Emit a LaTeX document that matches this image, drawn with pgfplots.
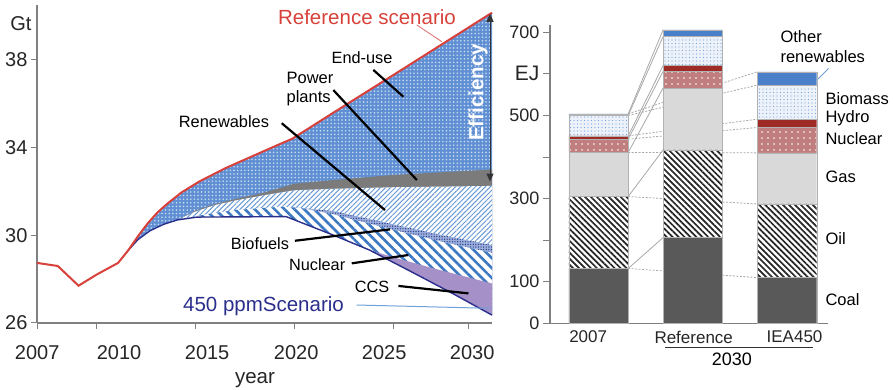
\documentclass[border=0pt]{standalone}
\usepackage{pgfplots}
\pgfplotsset{compat=1.18}
\usepackage{fontspec}
\setmainfont{Liberation Sans}
\usetikzlibrary{patterns.meta,arrows.meta}

\definecolor{refred}{HTML}{D8413A}
\definecolor{navy}{HTML}{2B2F8C}
\definecolor{eublue}{HTML}{6090D3}
\definecolor{eudot}{HTML}{C8DAF2}
\definecolor{ppgray}{HTML}{7B7B7B}
\definecolor{renblue}{HTML}{6A9AD6}
\definecolor{nucblue}{HTML}{3D78C2}
\definecolor{biobase}{HTML}{9AAEDC}
\definecolor{biodots}{HTML}{2B3A8C}
\definecolor{ccs}{HTML}{A690C8}
\definecolor{lblue}{HTML}{6FA0D8}
\definecolor{coal}{HTML}{595959}
\definecolor{gas}{HTML}{D9D9D9}
\definecolor{nucred}{HTML}{C07F7E}
\definecolor{hydro}{HTML}{9E2B26}
\definecolor{biomassbg}{HTML}{EDF2FA}
\definecolor{biomassdot}{HTML}{7AA6DD}
\definecolor{otherren}{HTML}{4A80C9}
\definecolor{conn}{HTML}{A8A8A8}
\definecolor{axgray}{HTML}{808080}

\begin{document}
\begin{tikzpicture}
\path[use as bounding box] (0,0) rectangle (893pt,390pt);

% ================= LEFT CHART =================
\begin{axis}[
  at={(37pt,67pt)}, anchor=south west,
  scale only axis, width=455pt, height=318pt,
  xmin=2007, xmax=2030, ymin=26, ymax=40.5,
  axis x line=bottom, axis y line=left,
  axis line style={-, draw=axgray, line width=1.3pt},
  xtick={2007,2010,2015,2020,2025,2028.8}, xticklabels={},
  extra x ticks={2007.01,2011.15,2015.6,2020.1,2024.55,2029.0},
  extra x tick labels={2007,2010,2015,2020,2025,2030},
  extra x tick style={major tick length=0pt},
  ytick={26,30,34,38},
  tick align=outside, major tick length=6pt,
  tick style={draw=axgray, line width=1pt},
  ticklabel style={font=\fontsize{20}{20}\selectfont, text=black!85},
  xticklabel style={yshift=-19pt},
  /pgf/number format/assume math mode=true,
  clip=false,
]
% End-use (red to L0)
\addplot[draw=none, fill=eublue, postaction={pattern={Dots[radius=0.9pt,distance=3.6pt]}, pattern color=eudot}] coordinates {
 (2011.6,29.3) (2012.1,29.95) (2012.6,30.55) (2013.1,31.05) (2013.6,31.45) (2014.3,31.95) (2015.2,32.45) (2016.5,33.05) (2017.8,33.57) (2019,34.05) (2019.9,34.4) (2022,35.6) (2025,37.3) (2030,40.15)
 (2030,26.36) (2028,27.35) (2026,28.3) (2023.8,29.33) (2022,30.0) (2020.3,30.6) (2019.6,30.85) (2015.1,30.83) (2014.1,30.7) (2013.4,30.5) (2012.7,30.2) (2012.1,29.8)
} -- cycle;
% Power plants (gray)
\addplot[draw=none, fill=ppgray] coordinates {
 (2014.1,30.7) (2015,31.12) (2016,31.43) (2017,31.65) (2018.5,31.95) (2020,32.35) (2022,32.52) (2025,32.75) (2030,33.0)
 (2030,26.36) (2028,27.35) (2026,28.3) (2023.8,29.33) (2022,30.0) (2020.3,30.6) (2019.6,30.85) (2015.1,30.83)
} -- cycle;
% Renewables
\addplot[draw=none, fill=white, postaction={pattern={Lines[angle=45,distance=3.5pt,line width=1pt]}, pattern color=renblue}] coordinates {
 (2014.1,30.7) (2015,31.08) (2016,31.38) (2017,31.58) (2018.5,31.83) (2020,32.05) (2022,32.12) (2025,32.19) (2030,32.25)
 (2030,26.36) (2028,27.35) (2026,28.3) (2023.8,29.33) (2022,30.0) (2020.3,30.6) (2019.6,30.85) (2015.1,30.83)
} -- cycle;
% Biofuels
\addplot[draw=none, fill=biobase, postaction={pattern={Dots[radius=0.7pt,distance=2.6pt]}, pattern color=biodots}] coordinates {
 (2020,31.27) (2022,31.1) (2025,30.5) (2027.5,30.0) (2030,29.55)
 (2030,26.36) (2028,27.35) (2026,28.3) (2023.8,29.33) (2022,30.0) (2020.3,30.6) (2020,30.71)
} -- cycle;
% Nuclear
\addplot[draw=none, fill=white, postaction={pattern={Lines[angle=-45,distance=7pt,line width=2.6pt]}, pattern color=nucblue}] coordinates {
 (2014.6,30.78) (2015.5,30.95) (2017,31.15) (2019.3,31.3) (2020.3,31.25) (2022,30.95) (2025,30.25) (2027.5,29.7) (2030,29.2)
 (2030,26.36) (2028,27.35) (2026,28.3) (2023.8,29.33) (2022,30.0) (2020.3,30.6) (2019.6,30.85) (2015.1,30.83)
} -- cycle;
% CCS
\addplot[draw=none, fill=ccs] coordinates {
 (2023.8,29.33) (2025,29.0) (2027,28.5) (2030,27.8)
 (2030,26.36) (2028,27.35) (2026,28.3)
} -- cycle;
% 450 ppm line
\addplot[navy, line width=1.4pt] coordinates {
 (2011.6,29.3) (2012.1,29.8) (2012.7,30.2) (2013.4,30.5) (2014.1,30.7) (2015.1,30.83) (2019.6,30.85) (2020.3,30.6) (2022,30.0) (2023.8,29.33) (2026,28.3) (2028,27.35) (2030,26.36)};
% Reference line
\addplot[refred, line width=2pt] coordinates {
 (2007,28.74) (2008.05,28.6) (2009.1,27.7) (2010,28.2) (2011.1,28.74) (2011.6,29.3) (2012.1,29.95) (2012.6,30.55) (2013.1,31.05) (2013.6,31.45) (2014.3,31.95) (2015.2,32.45) (2016.5,33.05) (2017.8,33.57) (2019,34.05) (2019.9,34.4) (2022,35.6) (2025,37.3) (2030,40.15)};
% Efficiency arrow
\addplot[black!80, line width=1pt, arrows={Triangle[length=8pt,width=7pt]-Triangle[length=8pt,width=7pt]}] coordinates {(2029.9,40.1) (2029.9,32.45)};
% annotation lines
\addplot[black, line width=2.2pt] coordinates {(2024.0,37.54) (2025.52,36.32)};
\addplot[black, line width=2.2pt] coordinates {(2021.98,36.62) (2026.2,32.52)};
\addplot[black, line width=2.2pt] coordinates {(2019.37,35.11) (2024.59,31.15)};
\addplot[black, line width=2.2pt] coordinates {(2020.04,29.75) (2024.85,30.27)};
\addplot[black, line width=2.2pt] coordinates {(2022.91,28.72) (2025.77,29.10)};
\addplot[black, line width=2.2pt] coordinates {(2025.27,27.69) (2028.81,27.35)};
\addplot[lblue, line width=1pt] coordinates {(2023.16,26.82) (2029.9,26.67)};
\addplot[refred!80, line width=0.8pt] coordinates {(2026.2,39.59) (2027.46,38.83)};
% labels
\node[anchor=base, text=refred, font=\fontsize{20.5}{20}\selectfont] at (axis cs:2023.68,39.59) {Reference scenario};
\node[anchor=base, font=\fontsize{16.3}{16}\selectfont] at (axis cs:2023.43,37.81) {End-use};
\node[anchor=base west, font=\fontsize{16.5}{16}\selectfont] at (axis cs:2019.44,36.9) {Power};
\node[anchor=base west, font=\fontsize{16.5}{16}\selectfont] at (axis cs:2019.44,36.05) {plants};
\node[anchor=base, font=\fontsize{16.4}{16}\selectfont] at (axis cs:2016.45,34.92) {Renewables};
\node[anchor=base, font=\fontsize{16.3}{16}\selectfont] at (axis cs:2018.27,29.36) {Biofuels};
\node[anchor=base, font=\fontsize{16.3}{16}\selectfont] at (axis cs:2021.16,28.38) {Nuclear};
\node[anchor=base, font=\fontsize{16.3}{16}\selectfont] at (axis cs:2023.94,27.41) {CCS};
\node[anchor=base, text=navy, font=\fontsize{20.5}{20}\selectfont] at (axis cs:2018.45,26.52) {450 ppmScenario};
\node[rotate=90, text=white, font=\bfseries\fontsize{20.5}{20}\selectfont] at (axis cs:2029.3,36.51) {Efficiency};
\node[font=\fontsize{20}{20}\selectfont, text=black!85] at (axis cs:2006.19,39.66) {Gt};
\node[anchor=base, font=\fontsize{20.5}{20}\selectfont, text=black!85] at (axis cs:2018.02,23.26) {year};
\end{axis}

% ================= RIGHT CHART: connectors (behind) =================
\begin{axis}[
  at={(550pt,66.7pt)}, anchor=south west,
  scale only axis, width=278pt, height=298.3pt,
  xmin=-0.515, xmax=2.435, ymin=0, ymax=717.6,
  hide axis, clip=false,
]
\addplot[conn, line width=0.8pt] coordinates {(0.315,132) (0.685,206)};
\addplot[conn, line width=0.8pt] coordinates {(0.315,305) (0.685,417)};
\addplot[conn, line width=0.8pt] coordinates {(0.315,411) (0.685,566)};
\addplot[conn, line width=0.8pt] coordinates {(0.315,443) (0.685,606)};
\addplot[conn, line width=0.8pt] coordinates {(0.315,451) (0.685,620)};
\addplot[conn, line width=0.8pt] coordinates {(0.315,500) (0.685,690)};
\addplot[conn, line width=0.8pt] coordinates {(0.315,504) (0.685,706)};
\addplot[conn, line width=0.8pt, dash pattern=on 2pt off 1.5pt] coordinates {(0.315,132) (1.685,110)};
\addplot[conn, line width=0.8pt, dash pattern=on 2pt off 1.5pt] coordinates {(0.315,305) (1.685,287)};
\addplot[conn, line width=0.8pt, dash pattern=on 2pt off 1.5pt] coordinates {(0.315,411) (1.685,410)};
\addplot[conn, line width=0.8pt, dash pattern=on 2pt off 1.5pt] coordinates {(0.315,443) (1.685,471)};
\addplot[conn, line width=0.8pt, dash pattern=on 2pt off 1.5pt] coordinates {(0.315,451) (1.685,491)};
\addplot[conn, line width=0.8pt, dash pattern=on 2pt off 1.5pt] coordinates {(0.315,500) (1.685,573)};
\addplot[conn, line width=0.8pt, dash pattern=on 2pt off 1.5pt] coordinates {(0.315,504) (1.685,605)};
% leader for Other renewables
\addplot[lblue, line width=0.9pt] coordinates {(2.316,585) (2.44,613)};
% bracket under 2030
\addplot[black!80, line width=0.8pt] coordinates {(0.706,-57) (2.276,-57)};
\node[font=\fontsize{18}{18}\selectfont] at (axis cs:1.416,-86) {2030};
\node[anchor=west, align=left, font=\fontsize{16.5}{20}\selectfont] at (axis cs:1.894,664.7) {Other\\renewables};
\node[anchor=west, font=\fontsize{16.5}{16}\selectfont] at (axis cs:2.371,541) {Biomass};
\node[anchor=west, font=\fontsize{16.5}{16}\selectfont] at (axis cs:2.371,493) {Hydro};
\node[anchor=west, font=\fontsize{16.5}{16}\selectfont] at (axis cs:2.371,445) {Nuclear};
\node[anchor=west, font=\fontsize{16.5}{16}\selectfont] at (axis cs:2.371,353) {Gas};
\node[anchor=west, font=\fontsize{16.5}{16}\selectfont] at (axis cs:2.371,204) {Oil};
\node[anchor=west, font=\fontsize{16.5}{16}\selectfont] at (axis cs:2.371,56) {Coal};
\end{axis}

% ================= RIGHT CHART: bars =================
\begin{axis}[
  at={(550pt,66.7pt)}, anchor=south west,
  scale only axis, width=278pt, height=298.3pt,
  xmin=-0.515, xmax=2.435, ymin=0, ymax=717.6,
  ybar stacked, bar width=0.63,
  axis x line=bottom, axis y line=left,
  axis line style={-, draw=axgray, line width=1.1pt},
  xtick={-0.11,1.01,2.08}, xticklabels={2007,Reference,IEA450},
  x tick style={draw=none},
  ytick={0,100,200,300,400,500,600,700},
  yticklabels={0,100,,300,,500,{\fontsize{21}{21}\selectfont EJ},700},
  y tick style={draw=axgray, line width=1pt},
  tick align=outside, major tick length=7pt,
  xticklabel style={font=\fontsize{17}{17}\selectfont, text=black!85, yshift=3pt},
  yticklabel style={font=\fontsize{18}{18}\selectfont, text=black!85},
  /pgf/number format/assume math mode=true,
  clip=false,
]
\addplot[fill=coal, draw=black!30, line width=0.4pt] coordinates {(0,132) (1,206) (2,110)};
\addplot[fill=white, draw=black!30, line width=0.4pt, postaction={pattern={Lines[angle=-45,distance=4.2pt,line width=1.7pt]}, pattern color=black!85}] coordinates {(0,173) (1,211) (2,177)};
\addplot[fill=gas, draw=black!30, line width=0.4pt] coordinates {(0,106) (1,149) (2,123)};
\addplot[fill=nucred, draw=black!30, line width=0.4pt, postaction={pattern={Dots[radius=0.8pt,distance=6pt]}, pattern color=white}] coordinates {(0,32) (1,40) (2,61)};
\addplot[fill=hydro, draw=black!30, line width=0.4pt] coordinates {(0,8) (1,14) (2,20)};
\addplot[fill=biomassbg, draw=black!30, line width=0.4pt, postaction={pattern={Dots[radius=0.7pt,distance=3.5pt]}, pattern color=biomassdot}] coordinates {(0,49) (1,70) (2,82)};
\addplot[fill=otherren, draw=black!30, line width=0.4pt] coordinates {(0,4) (1,16) (2,32)};
\end{axis}
\end{tikzpicture}
\end{document}
